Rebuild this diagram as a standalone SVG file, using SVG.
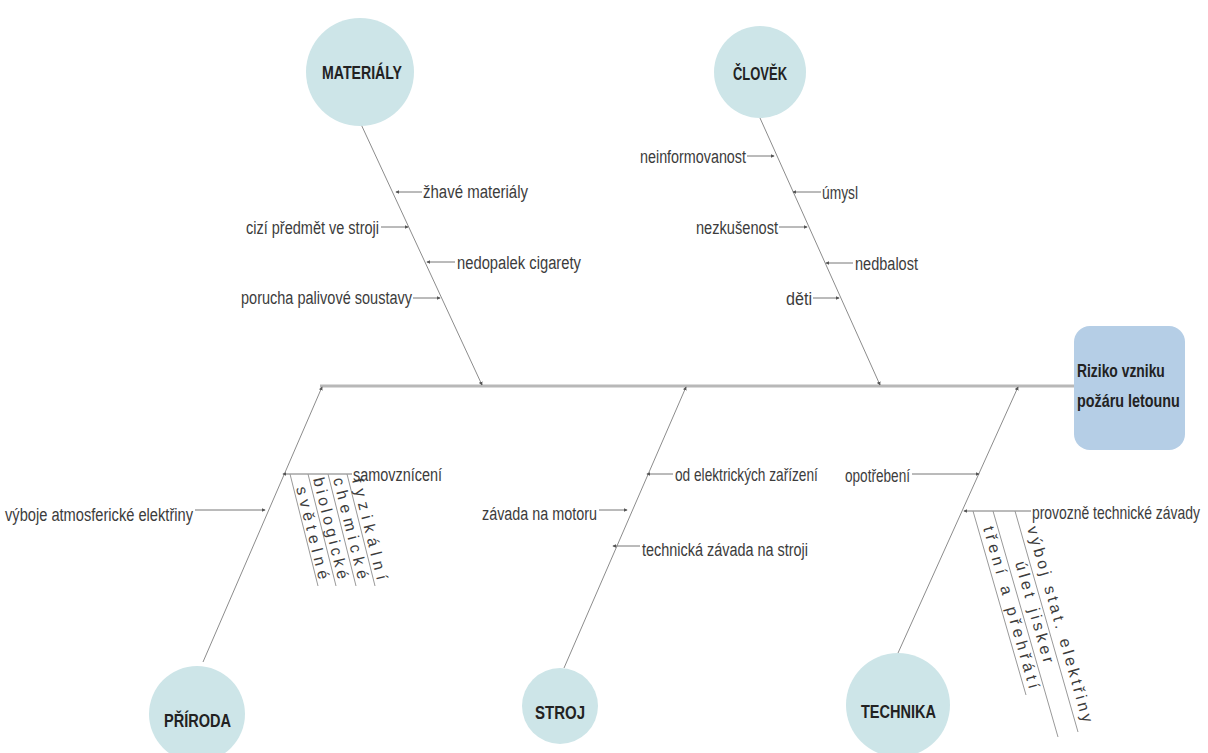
<svg xmlns="http://www.w3.org/2000/svg" width="1208" height="753" viewBox="0 0 1208 753">
<style>
.lbl{font-family:"Liberation Sans","DejaVu Sans",sans-serif;font-size:18px;fill:#3c3c3c;}
.rot{font-family:"Liberation Sans","DejaVu Sans",sans-serif;font-size:16px;fill:#3c3c3c;}
.node{font-family:"Liberation Sans","DejaVu Sans",sans-serif;font-size:19px;font-weight:bold;fill:#222;}
.cat{fill:#cde5e8;}
.br{stroke:#8c8c8c;stroke-width:1;fill:none;}
.tk{stroke:#777;stroke-width:1;fill:none;}
.sub{stroke:#999;stroke-width:1;fill:none;}
.spine{stroke:#b8b8b8;stroke-width:3;fill:none;}
</style>
<defs>
<marker id="ah" viewBox="0 0 6 6" refX="5" refY="3" markerWidth="4" markerHeight="4" orient="auto" markerUnits="userSpaceOnUse">
<path d="M0,0 L6,3 L0,6 z" fill="#555"/>
</marker>
</defs>
<rect width="1208" height="753" fill="#fff"/>

<g id="connectors">
<line class="spine" x1="320" y1="386" x2="1074" y2="386"/>
<line class="br" x1="360" y1="122" x2="482" y2="385" marker-end="url(#ah)"/>
<line class="br" x1="760" y1="118" x2="880" y2="385" marker-end="url(#ah)"/>
<line class="br" x1="203" y1="662" x2="322" y2="387" marker-end="url(#ah)"/>
<line class="br" x1="564" y1="668" x2="686" y2="387" marker-end="url(#ah)"/>
<line class="br" x1="898" y1="653" x2="1018" y2="387" marker-end="url(#ah)"/>

<line class="tk" x1="422" y1="192" x2="396" y2="192" marker-end="url(#ah)"/>
<line class="tk" x1="381" y1="227" x2="408" y2="227" marker-end="url(#ah)"/>
<line class="tk" x1="455" y1="262" x2="427" y2="262" marker-end="url(#ah)"/>
<line class="tk" x1="413" y1="298" x2="440" y2="298" marker-end="url(#ah)"/>

<line class="tk" x1="747" y1="156" x2="774" y2="156" marker-end="url(#ah)"/>
<line class="tk" x1="821" y1="192" x2="793" y2="192" marker-end="url(#ah)"/>
<line class="tk" x1="779" y1="227" x2="807" y2="227" marker-end="url(#ah)"/>
<line class="tk" x1="853" y1="263" x2="826" y2="263" marker-end="url(#ah)"/>
<line class="tk" x1="813" y1="298" x2="839" y2="298" marker-end="url(#ah)"/>

<line class="tk" x1="352" y1="474" x2="283" y2="474" marker-end="url(#ah)"/>
<line class="tk" x1="195" y1="510" x2="265" y2="510" marker-end="url(#ah)"/>
<line class="sub" x1="290" y1="474" x2="318" y2="586"/>
<line class="sub" x1="308" y1="474" x2="336" y2="586"/>
<line class="sub" x1="328" y1="474" x2="356" y2="586"/>
<line class="sub" x1="347" y1="474" x2="375" y2="586"/>

<line class="tk" x1="673" y1="474" x2="647" y2="474" marker-end="url(#ah)"/>
<line class="tk" x1="599" y1="510" x2="627" y2="510" marker-end="url(#ah)"/>
<line class="tk" x1="640" y1="546" x2="613" y2="546" marker-end="url(#ah)"/>

<line class="tk" x1="912" y1="474" x2="979" y2="474" marker-end="url(#ah)"/>
<line class="tk" x1="1031" y1="511" x2="964" y2="511" marker-end="url(#ah)"/>
<line class="sub" x1="973" y1="511" x2="1026" y2="695"/>
<line class="sub" x1="993" y1="511" x2="1058" y2="737"/>
<line class="sub" x1="1015" y1="511" x2="1078" y2="732"/>
</g>

<g id="materialy">
<circle class="cat" cx="360" cy="72" r="54"/>
<text class="node" x="322" y="79" textLength="80" lengthAdjust="spacingAndGlyphs">MATERIÁLY</text>
<text class="lbl" x="423" y="198" textLength="105" lengthAdjust="spacingAndGlyphs">žhavé materiály</text>
<text class="lbl" x="246" y="234" textLength="133" lengthAdjust="spacingAndGlyphs">cizí předmět ve stroji</text>
<text class="lbl" x="457" y="269" textLength="124" lengthAdjust="spacingAndGlyphs">nedopalek cigarety</text>
<text class="lbl" x="241" y="304" textLength="171" lengthAdjust="spacingAndGlyphs">porucha palivové soustavy</text>
</g>

<g id="clovek">
<circle class="cat" cx="760" cy="72" r="46"/>
<text class="node" x="733" y="80" textLength="54" lengthAdjust="spacingAndGlyphs">ČLOVĚK</text>
<text class="lbl" x="640" y="163" textLength="106" lengthAdjust="spacingAndGlyphs">neinformovanost</text>
<text class="lbl" x="822" y="199" textLength="36" lengthAdjust="spacingAndGlyphs">úmysl</text>
<text class="lbl" x="696" y="234" textLength="82" lengthAdjust="spacingAndGlyphs">nezkušenost</text>
<text class="lbl" x="855" y="270" textLength="63" lengthAdjust="spacingAndGlyphs">nedbalost</text>
<text class="lbl" x="786" y="305" textLength="26" lengthAdjust="spacingAndGlyphs">děti</text>
</g>

<g id="priroda">
<circle class="cat" cx="197" cy="714" r="48"/>
<text class="node" x="164" y="727" textLength="67" lengthAdjust="spacingAndGlyphs">PŘÍRODA</text>
<text class="lbl" x="353" y="481" textLength="89" lengthAdjust="spacingAndGlyphs">samovznícení</text>
<text class="lbl" x="5" y="521" textLength="188" lengthAdjust="spacingAndGlyphs">výboje atmosferické elektřiny</text>
<text class="rot" transform="translate(296,488) rotate(76)" textLength="95" lengthAdjust="spacing">světelné</text>
<text class="rot" transform="translate(313,479) rotate(76)" textLength="104" lengthAdjust="spacing">biologické</text>
<text class="rot" transform="translate(333,479) rotate(76)" textLength="104" lengthAdjust="spacing">chemické</text>
<text class="rot" transform="translate(352,480) rotate(76)" textLength="104" lengthAdjust="spacing">fyzikální</text>
</g>

<g id="stroj">
<circle class="cat" cx="560" cy="706" r="38"/>
<text class="node" x="535" y="719" textLength="50" lengthAdjust="spacingAndGlyphs">STROJ</text>
<text class="lbl" transform="translate(675,481) scale(0.76,1)" textLength="188" lengthAdjust="spacingAndGlyphs">od elektrických zařízení</text>
<text class="lbl" x="482" y="520" textLength="115" lengthAdjust="spacingAndGlyphs">závada na motoru</text>
<text class="lbl" x="642" y="556" textLength="166" lengthAdjust="spacingAndGlyphs">technická závada na stroji</text>
</g>

<g id="technika">
<circle class="cat" cx="898" cy="705" r="52"/>
<text class="node" x="861" y="718" textLength="75" lengthAdjust="spacingAndGlyphs">TECHNIKA</text>
<text class="lbl" x="845" y="482" textLength="65" lengthAdjust="spacingAndGlyphs">opotřebení</text>
<text class="lbl" transform="translate(1032,519) scale(0.77,1)" textLength="218" lengthAdjust="spacingAndGlyphs">provozně technické závady</text>
<text class="rot" transform="translate(983,528) rotate(74)" textLength="168" lengthAdjust="spacing">tření a přehřátí</text>
<text class="rot" transform="translate(1015,563) rotate(74)" textLength="105" lengthAdjust="spacing">úlet jisker</text>
<text class="rot" transform="translate(1027,528) rotate(74)" textLength="203" lengthAdjust="spacing">výboj stat. elektřiny</text>
</g>

<g id="riziko">
<rect x="1074" y="326" width="111" height="124" rx="16" fill="#b5cee6"/>
<text class="node" transform="translate(1077,377) scale(0.72,1)" textLength="122" lengthAdjust="spacingAndGlyphs">Riziko vzniku</text>
<text class="node" transform="translate(1077,407) scale(0.75,1)" textLength="137" lengthAdjust="spacingAndGlyphs">požáru letounu</text>
</g>
</svg>
